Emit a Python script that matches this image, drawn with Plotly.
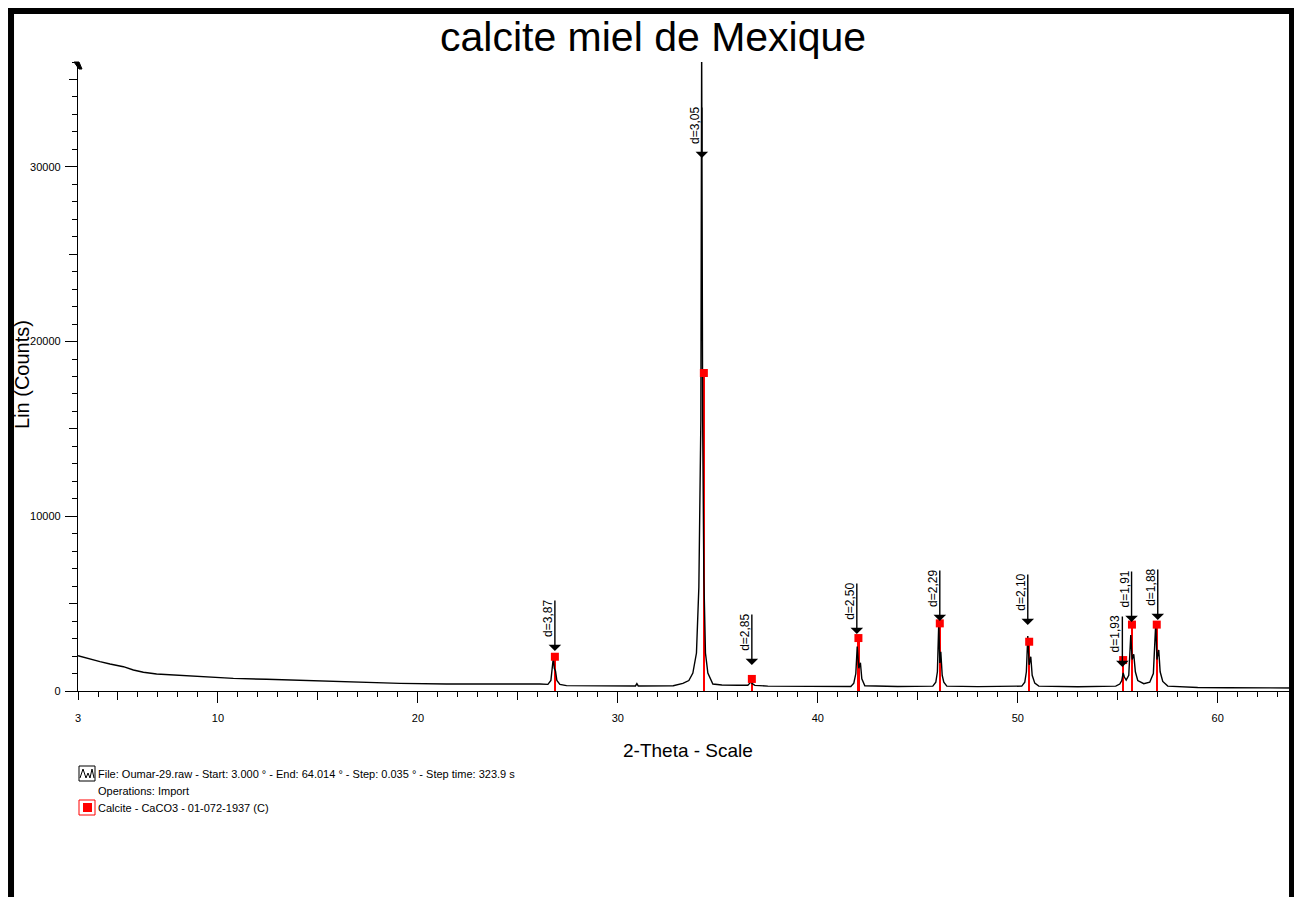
import plotly.graph_objects as go

two_theta = [3.0, 3.43, 4.1, 4.6, 5.27, 5.77, 6.27, 6.93, 7.77, 9.1, 10.77, 12.43, 14.1,
             15.77, 17.43, 19.1, 21.43, 23.5, 24.8, 26.1, 26.5, 26.65, 26.73, 26.77, 26.82,
             26.88, 26.95, 27.1, 27.43, 28.5, 29.77, 30.88, 30.95, 31.02, 32.77, 33.25,
             33.55, 33.75, 33.93, 34.05, 34.15, 34.19, 34.24, 34.3, 34.38, 34.5, 34.75,
             35.2, 36.0, 36.5, 36.6, 36.65, 36.72, 36.85, 37.5, 39.0, 40.5, 41.65, 41.8,
             41.9, 41.97, 42.05, 42.13, 42.2, 42.35, 44.0, 45.75, 45.9, 45.98, 46.05, 46.1,
             46.15, 46.22, 46.3, 46.45, 48.0, 50.2, 50.35, 50.43, 50.5, 50.57, 50.65, 50.72,
             50.85, 51.05, 53.0, 54.9, 55.1, 55.2, 55.27, 55.33, 55.42, 55.55, 55.65, 55.72,
             55.8, 55.88, 56.0, 56.3, 56.6, 56.78, 56.9, 56.96, 57.05, 57.12, 57.25, 57.5,
             59.0, 60.5, 62.0, 63.0, 64.0]
counts = [2020, 1870, 1680, 1545, 1390, 1200, 1070, 970, 915, 820, 725, 670, 610,
          555, 475, 435, 400, 420, 400, 400, 380, 600, 1300, 1890, 1300,
          1150, 600, 380, 305, 300, 285, 290, 420, 290, 300, 435,
          600, 1030, 2175, 5950, 15500, 37000, 15500, 6500, 2175, 1030, 400,
          340, 330, 330, 450, 530, 420, 320, 280, 270, 260, 260, 450,
          1000, 2540, 1300, 1620, 700, 300, 260, 280, 500, 1100, 3970, 1600,
          2250, 900, 500, 280, 250, 280, 500, 1100, 3150, 1500, 1960, 900,
          450, 280, 240, 280, 400, 600, 1030, 800, 630, 900, 3200, 1800,
          2100, 1100, 600, 420, 500, 1000, 3890, 1800, 2350, 1100, 550, 280,
          200, 190, 200, 180, 175]

# Calcite reference lines
stick_2theta = [26.85, 34.3, 36.7, 42.03, 46.1, 50.57, 55.27, 55.71, 56.95]
stick_counts = [1960, 18200, 690, 3030, 3870, 2820, 1770, 3800, 3800]

# d-spacing labels
d_labels = ["d=3,87", "d=3,05", "d=2,85", "d=2,50", "d=2,29", "d=2,10", "d=1,93", "d=1,91", "d=1,88"]
d_2theta = [26.85, 34.2, 36.7, 41.95, 46.1, 50.5, 55.23, 55.69, 57.0]
d_tip = [2290, 30500, 1490, 3260, 4000, 3780, 1370, 3950, 4060]

y_ticks = [0, 10000, 20000, 30000]
x_ticks = [10, 20, 30, 40, 50, 60]

FONT = "Arial, Liberation Sans, sans-serif"

fig = go.Figure()
fig.add_trace(go.Scatter(x=two_theta, y=counts, mode="lines",
                         line=dict(color="black", width=1.4), showlegend=False))
fig.add_trace(go.Bar(x=stick_2theta, y=stick_counts, width=0.12,
                     marker=dict(color="#ff0000", line=dict(width=0)), showlegend=False))
fig.add_trace(go.Scatter(x=stick_2theta, y=stick_counts, mode="markers",
                         marker=dict(symbol="square", size=8, color="#ff0000"),
                         showlegend=False))

for lab, xx, yy in zip(d_labels, d_2theta, d_tip):
    fig.add_annotation(x=xx, y=yy, text="", showarrow=True, ax=0, ay=-52,
                       arrowhead=1, arrowsize=1.5, arrowwidth=1.4, arrowcolor="black")
    fig.add_annotation(x=xx, y=yy, text=lab, showarrow=False, textangle=-90,
                       xshift=-7, yshift=33, font=dict(size=12, color="black", family=FONT))

# axis titles
fig.add_annotation(xref="paper", yref="paper", x=-0.0459, y=0.5024, text="Lin (Counts)",
                   xanchor="center", yanchor="middle",
                   showarrow=False, textangle=-90, font=dict(size=20, color="black", family=FONT))
fig.add_annotation(xref="paper", yref="paper", x=0.5, y=-0.0938, text="2-Theta - Scale",
                   xanchor="center", yanchor="middle",
                   showarrow=False, font=dict(size=19, color="black", family=FONT))

# legend block
legend_lines = ["File: Oumar-29.raw - Start: 3.000 ° - End: 64.014 ° - Step: 0.035 ° - Step time: 323.9 s",
                "Operations: Import",
                "Calcite - CaCO3 - 01-072-1937 (C)"]
legend_y = [-0.132, -0.159, -0.186]
for t, yy in zip(legend_lines, legend_y):
    fig.add_annotation(xref="paper", yref="paper", x=0.0148, y=yy, text=t, showarrow=False,
                       xanchor="left", yanchor="middle", font=dict(size=11, color="black", family=FONT))

# legend icons (pixel offsets from the plot's bottom-left corner)
fig.add_shape(type="rect", xref="paper", yref="paper", xsizemode="pixel", ysizemode="pixel",
              xanchor=0, yanchor=0, x0=1, x1=17, y0=-75, y1=-90,
              line=dict(color="black", width=1))
fig.add_shape(type="path", xref="paper", yref="paper", xsizemode="pixel", ysizemode="pixel",
              xanchor=0, yanchor=0,
              path="M 2,-87 L 5,-78 L 8,-87 L 10,-82 L 12,-87 L 14,-78 L 16,-87",
              line=dict(color="black", width=1))
fig.add_shape(type="rect", xref="paper", yref="paper", xsizemode="pixel", ysizemode="pixel",
              xanchor=0, yanchor=0, x0=1, x1=17, y0=-109, y1=-124,
              line=dict(color="#ff0000", width=1))
fig.add_shape(type="rect", xref="paper", yref="paper", xsizemode="pixel", ysizemode="pixel",
              xanchor=0, yanchor=0, x0=5, x1=14, y0=-112, y1=-121,
              fillcolor="#ff0000", line=dict(color="#ff0000", width=0))

# small flag at top of the y axis
fig.add_shape(type="path", xref="paper", yref="paper", xsizemode="pixel", ysizemode="pixel",
              xanchor=0, yanchor=1, path="M -4,0 L 1,0 L 4,-7 L 1,-7 Z",
              fillcolor="black", line=dict(color="black", width=1))

# outer frame
fig.add_shape(type="rect", xref="paper", yref="paper", x0=-0.0549, x1=0.9951, y0=-0.4, y1=1.0811,
              line=dict(color="black", width=6), layer="above")

fig.update_layout(
    width=1294, height=889,
    margin=dict(l=70, r=4, t=54, b=206),
    paper_bgcolor="white", plot_bgcolor="white",
    bargap=0, showlegend=False,
    title=dict(text="calcite miel de Mexique", x=0.4985, y=0.9674, xref="container",
               yref="container", xanchor="center", yanchor="middle",
               font=dict(size=41, color="black", family=FONT)),
    font=dict(family=FONT, color="black"),
    xaxis=dict(range=[3, 64.014], showgrid=False, zeroline=False, showline=True,
               linecolor="black", linewidth=1.3, ticks="outside", ticklen=11, tickwidth=1.3,
               tickcolor="black", tickvals=x_ticks, ticktext=[str(v) for v in x_ticks],
               tickfont=dict(size=11, color="black"), ticklabelstandoff=6,
               minor=dict(ticks="outside", dtick=1, tick0=0, ticklen=5, tickwidth=1,
                          tickcolor="black", showgrid=False)),
    xaxis2=dict(range=[3, 64.014], overlaying="x", side="bottom", showgrid=False,
                zeroline=False, showline=False, ticks="outside", ticklen=8, tickwidth=1.3,
                tickcolor="black", tickvals=[3, 5, 15, 25, 35, 45, 55],
                ticktext=["3", "", "", "", "", "", ""], ticklabelstandoff=9,
                tickfont=dict(size=11, color="black")),
    yaxis=dict(range=[0, 36000], showgrid=False, zeroline=False, showline=True,
               linecolor="black", linewidth=1.3, ticks="outside", ticklen=12, tickwidth=1.3,
               tickcolor="black", tickvals=y_ticks, ticktext=[str(v) for v in y_ticks],
               tickfont=dict(size=11, color="black"), ticklabelstandoff=2,
               minor=dict(ticks="outside", dtick=1000, tick0=0, ticklen=5, tickwidth=1,
                          tickcolor="black", showgrid=False)),
    yaxis2=dict(range=[0, 36000], overlaying="y", side="left", showgrid=False,
                zeroline=False, showline=False, ticks="outside", ticklen=8, tickwidth=1.3,
                tickcolor="black", tickvals=[5000, 15000, 25000, 35000],
                showticklabels=False),
)
# dummy trace so the overlay axes get drawn
fig.add_trace(go.Scatter(x=[None], y=[None], xaxis="x2", yaxis="y2", showlegend=False,
                         hoverinfo="skip"))

fig.write_html("out.html")
